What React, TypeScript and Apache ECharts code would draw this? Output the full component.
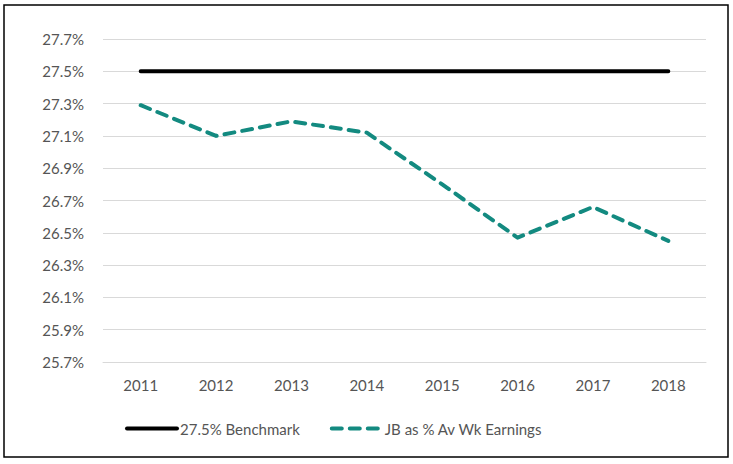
import React, { useEffect, useRef } from "react";
import * as echarts from "echarts";

const years = ["2011", "2012", "2013", "2014", "2015", "2016", "2017", "2018"];
const benchmark = [27.5, 27.5, 27.5, 27.5, 27.5, 27.5, 27.5, 27.5];
const jbEarnings = [27.29, 27.1, 27.19, 27.12, 26.8, 26.47, 26.66, 26.45];
const yMin = 25.7;
const yMax = 27.7;
const yStep = 0.2;
const seriesNames = ["27.5% Benchmark", "JB as % Av Wk Earnings"];

const FONT = "Lato, 'Open Sans', sans-serif";
const GREY = "#555555";

export default function App() {
  const ref = useRef<HTMLDivElement>(null);
  useEffect(() => {
    if (!ref.current) return;
    const chart = echarts.init(ref.current, undefined, { renderer: "svg" });
    const shift = (arr: number[]) => arr.map((v) => +(v - yMin).toFixed(4));
    chart.setOption({
      animation: false,
      backgroundColor: "#ffffff",
      textStyle: { fontFamily: FONT },
      grid: { left: 103, top: 39, width: 603, height: 323, containLabel: false },
      graphic: [
        {
          type: "rect",
          shape: { x: 4, y: 5, width: 724, height: 452 },
          style: { fill: "none", stroke: "#000000", lineWidth: 1.5 },
          silent: true,
        },
      ],
      legend: {
        left: 125,
        top: 421,
        padding: 0,
        itemWidth: 50,
        itemHeight: 14,
        itemGap: 30,
        itemStyle: { opacity: 0 },
        lineStyle: { width: 4 },
        textStyle: { color: GREY, fontSize: 15, fontFamily: FONT, padding: [0, 0, 0, -2] },
        data: seriesNames,
      },
      xAxis: {
        type: "category",
        data: years,
        boundaryGap: true,
        axisLine: { show: true, lineStyle: { color: "#d9d9d9", width: 1 } },
        axisTick: { show: false },
        axisLabel: { color: GREY, fontSize: 15, fontFamily: FONT, margin: 15 },
      },
      yAxis: {
        type: "value",
        min: 0,
        max: +(yMax - yMin).toFixed(4),
        interval: yStep,
        axisLine: { show: false },
        axisTick: { show: false },
        splitLine: { show: true, lineStyle: { color: "#d9d9d9", width: 1 } },
        axisLabel: {
          color: GREY,
          fontSize: 15,
          fontFamily: FONT,
          margin: 19,
          formatter: (v: number) => (v + yMin).toFixed(1) + "%",
        },
      },
      series: [
        {
          name: seriesNames[0],
          type: "line",
          data: shift(benchmark),
          symbol: "none",
          showSymbol: false,
          lineStyle: { color: "#000000", width: 4, cap: "round" },
          itemStyle: { color: "#000000" },
        },
        {
          name: seriesNames[1],
          type: "line",
          data: shift(jbEarnings),
          symbol: "none",
          showSymbol: false,
          lineStyle: { color: "#138a80", width: 4, type: [10, 8], cap: "round", join: "round" },
          itemStyle: { color: "#138a80" },
        },
      ],
    });
    return () => chart.dispose();
  }, []);
  return (
    <div
      ref={ref}
      style={{ position: "absolute", left: 0, top: 0, width: 733, height: 464 }}
    />
  );
}
